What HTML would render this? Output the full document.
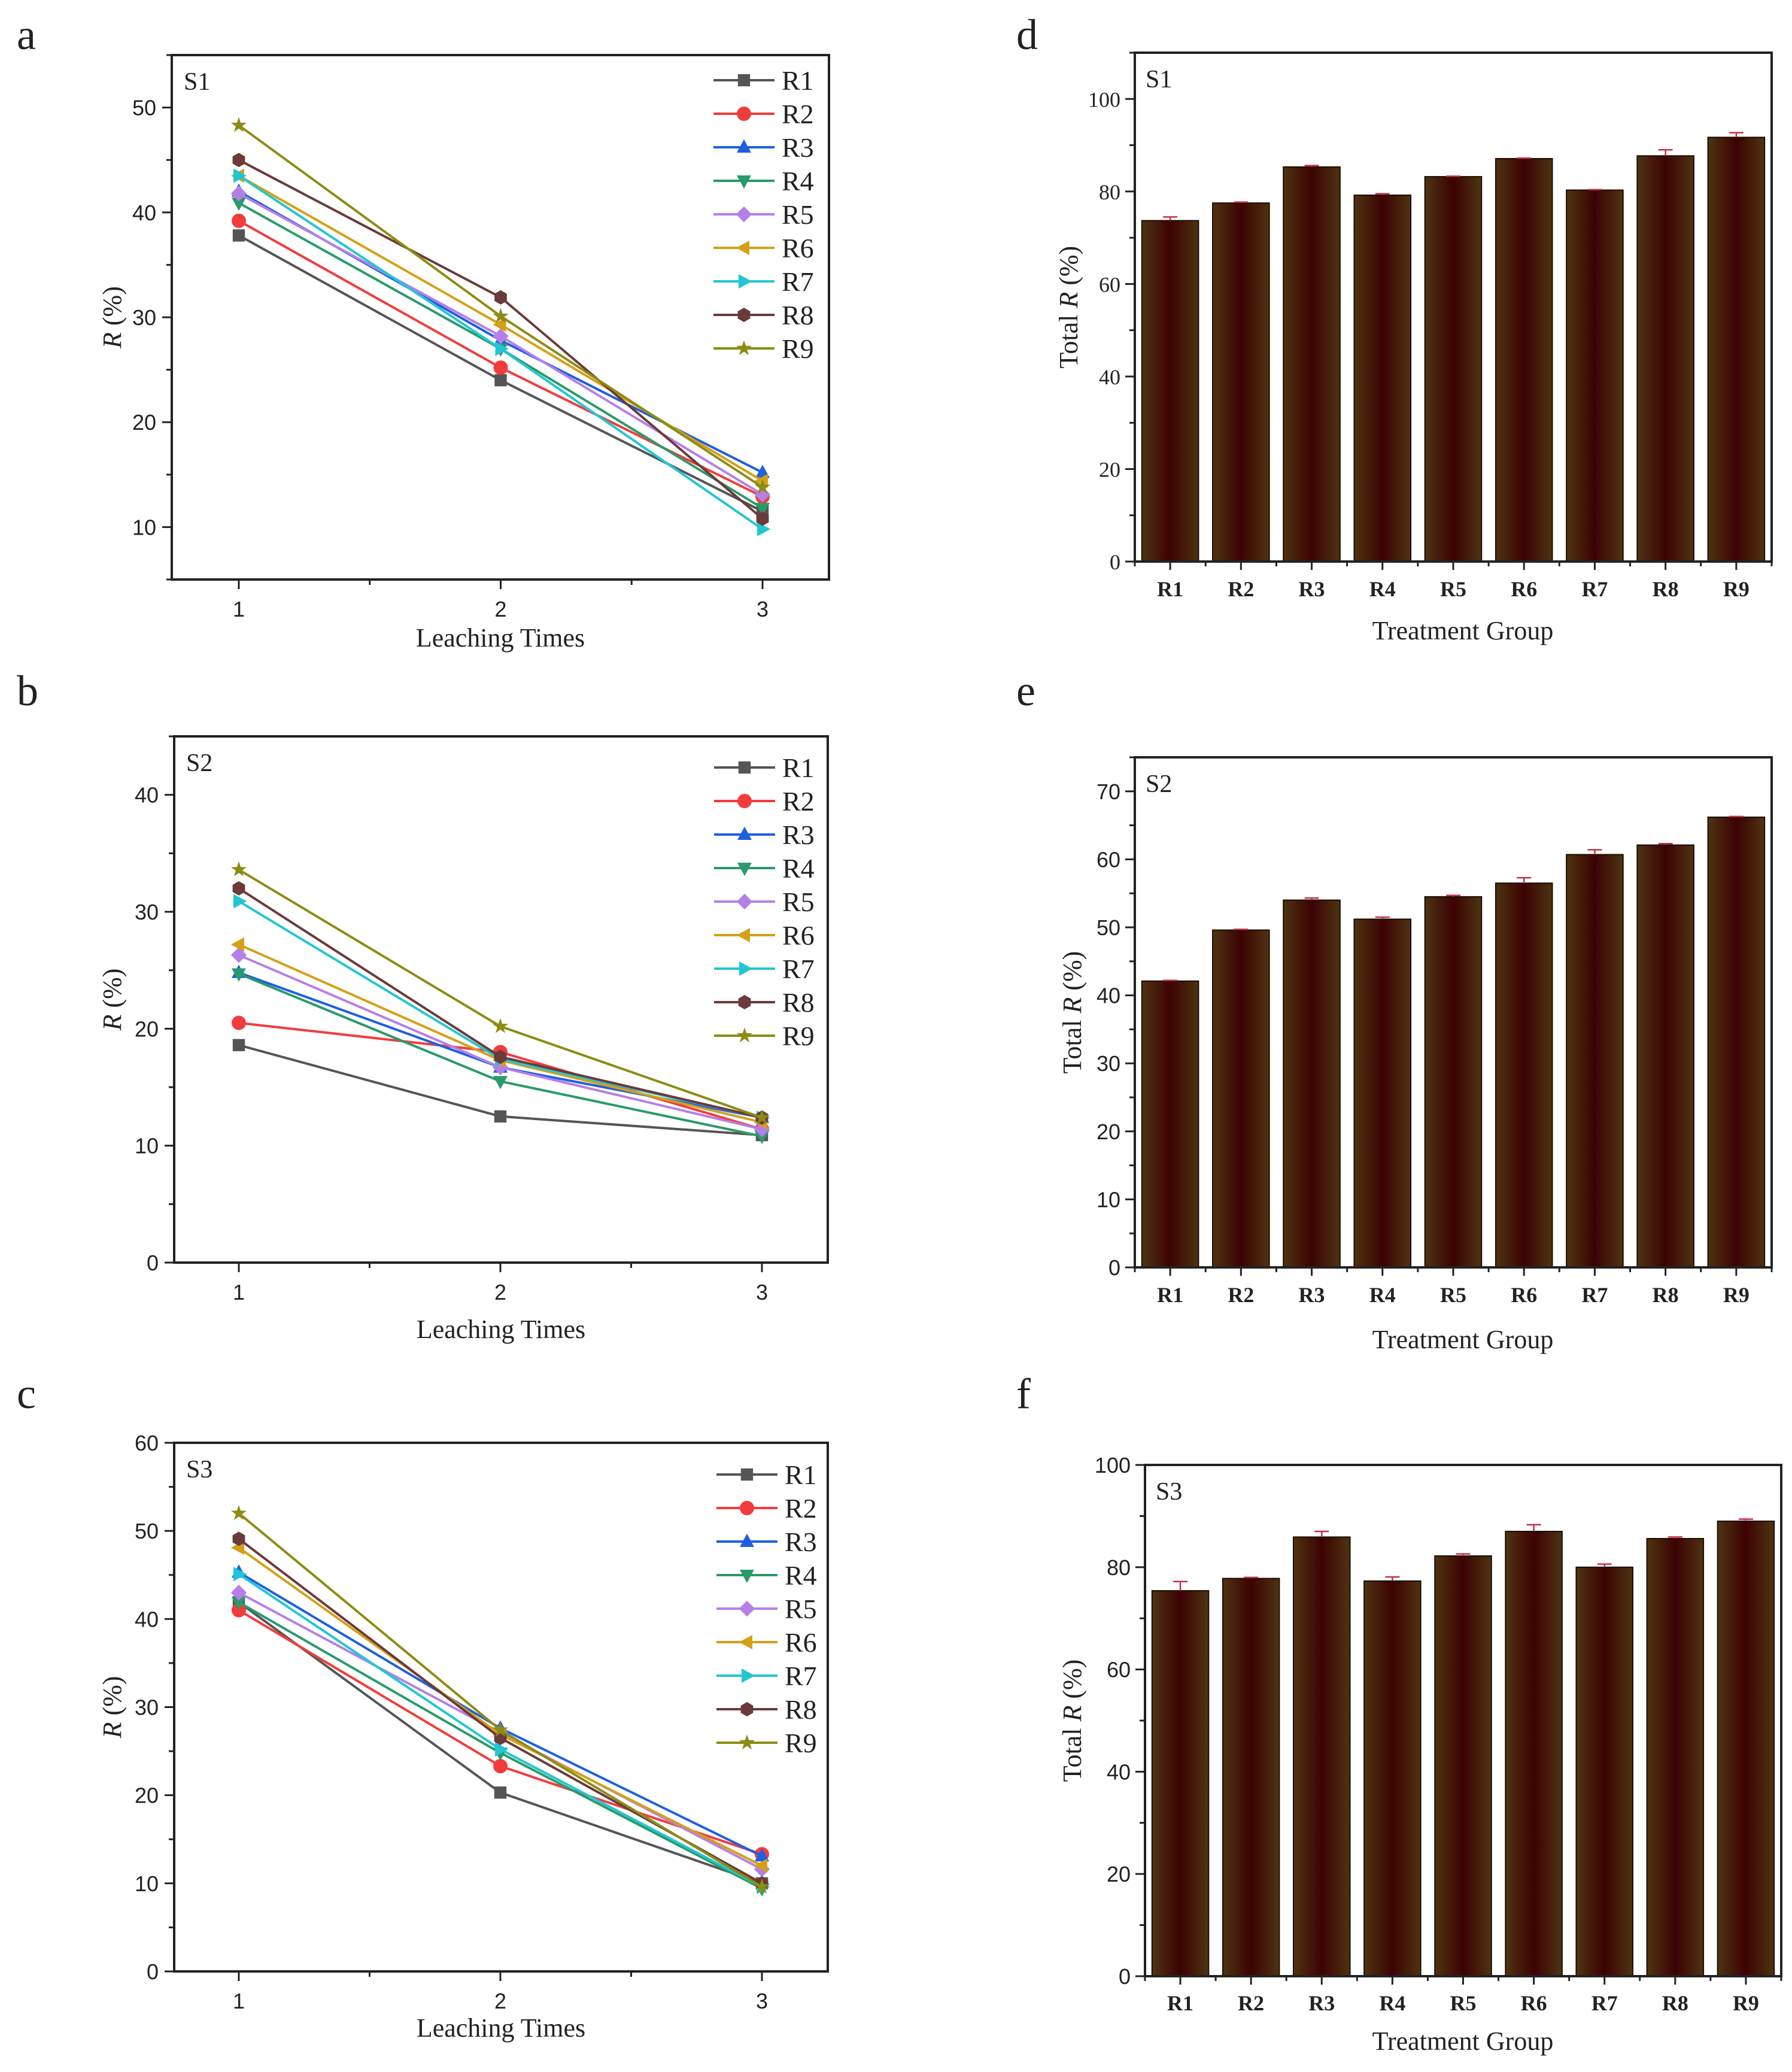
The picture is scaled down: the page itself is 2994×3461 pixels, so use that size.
<!DOCTYPE html>
<html><head><meta charset="utf-8"><style>
html,body{margin:0;padding:0;background:#fff;}
svg{display:block;}
text{fill:#222;}
</style></head><body>
<svg id="fig" xmlns="http://www.w3.org/2000/svg" width="2994" height="3461" viewBox="0 0 2994 3461">
<defs>
<linearGradient id="barGrad" x1="0" x2="1" y1="0" y2="0">
<stop offset="0" stop-color="#4e3412"/><stop offset="0.5" stop-color="#3c0202"/><stop offset="1" stop-color="#4e3412"/>
</linearGradient>
</defs>
</svg>
<script>
// ---- data ----
const series = ["R1","R2","R3","R4","R5","R6","R7","R8","R9"];
const leachTimes = [1,2,3];
const s1R1=[37.8,24.0,11.5], s1R2=[39.2,25.2,12.9], s1R3=[42.0,27.8,15.2], s1R4=[40.9,27.0,11.8], s1R5=[41.8,28.2,13.1], s1R6=[43.5,29.3,14.4], s1R7=[43.5,27.0,9.8], s1R8=[45.0,31.9,10.8], s1R9=[48.3,30.1,13.8];
const s2R1=[18.6,12.5,10.9], s2R2=[20.5,18.0,11.4], s2R3=[24.8,16.7,12.4], s2R4=[24.7,15.5,10.8], s2R5=[26.3,16.7,11.4], s2R6=[27.2,17.3,12.0], s2R7=[30.9,17.4,12.4], s2R8=[32.0,17.6,12.4], s2R9=[33.6,20.2,12.4];
const s3R1=[41.9,20.3,10.0], s3R2=[41.0,23.3,13.3], s3R3=[45.3,27.6,13.1], s3R4=[41.9,24.8,9.4], s3R5=[43.0,27.1,11.6], s3R6=[48.1,26.9,12.0], s3R7=[45.1,25.2,9.6], s3R8=[49.1,26.5,10.0], s3R9=[52.0,27.4,9.6];
const totalS1=[73.7,77.5,85.3,79.2,83.2,87.1,80.3,87.7,91.7];
const totalS2=[42.1,49.6,54.0,51.2,54.5,56.5,60.7,62.1,66.2];
const totalS3=[75.4,77.8,85.9,77.3,82.2,87.0,80.0,85.6,89.0];
const errS1=[0.8,0.2,0.3,0.3,0.1,0.1,0.1,1.3,1.0];
const errS2=[0.1,0.1,0.3,0.3,0.2,0.8,0.7,0.2,0.1];
const errS3=[1.8,0.2,1.1,0.8,0.4,1.3,0.6,0.3,0.4];
const ticksA=[10,20,30,40,50], ticksB=[0,10,20,30,40], ticksC=[0,10,20,30,40,50,60];
const ticksD=[0,20,40,60,80,100], ticksE=[0,10,20,30,40,50,60,70], ticksF=[0,20,40,60,80,100];

const colors=["#555555","#f23c3c","#1f5fe0","#2a9a6a","#b57fe8","#d4a017","#22c6d2","#6b3a3a","#8c8c14"];
const shapes=["square","circle","up","down","diamond","left","right","hex","star"];
const NS="http://www.w3.org/2000/svg";
const svg=document.getElementById('fig');
function el(tag,attrs,parent,txt){const e=document.createElementNS(NS,tag);for(const k in attrs)e.setAttribute(k,attrs[k]);if(txt!==undefined)e.textContent=txt;(parent||svg).appendChild(e);return e;}
const SERIF='"Liberation Serif", serif', SANS='"Liberation Sans", sans-serif';

function marker(g,shape,cx,cy,r,col){
  let m;
  const pts=a=>a.map(p=>(cx+p[0]*r).toFixed(1)+","+(cy+p[1]*r).toFixed(1)).join(" ");
  if(shape==="square") m=el('rect',{x:cx-r*0.85,y:cy-r*0.85,width:r*1.7,height:r*1.7,fill:col},g);
  else if(shape==="circle") m=el('circle',{cx:cx,cy:cy,r:r,fill:col},g);
  else if(shape==="up") m=el('polygon',{points:pts([[0,-1.1],[1,0.75],[-1,0.75]]),fill:col},g);
  else if(shape==="down") m=el('polygon',{points:pts([[0,1.1],[1,-0.75],[-1,-0.75]]),fill:col},g);
  else if(shape==="left") m=el('polygon',{points:pts([[-1.1,0],[0.75,-1],[0.75,1]]),fill:col},g);
  else if(shape==="right") m=el('polygon',{points:pts([[1.1,0],[-0.75,-1],[-0.75,1]]),fill:col},g);
  else if(shape==="diamond") m=el('polygon',{points:pts([[0,-1.1],[1.1,0],[0,1.1],[-1.1,0]]),fill:col},g);
  else if(shape==="hex"){const a=[];for(let i=0;i<6;i++){const t=Math.PI/6+i*Math.PI/3;a.push([Math.cos(t),Math.sin(t)]);}m=el('polygon',{points:pts(a),fill:col},g);}
  else {const a=[];for(let i=0;i<10;i++){const t=-Math.PI/2+i*Math.PI/5;const rr=i%2?0.45:1.15;a.push([rr*Math.cos(t),rr*Math.sin(t)]);}m=el('polygon',{points:pts(a),fill:col},g);}
  return m;
}

function panelLetter(txt,x,y){
  const t=el('text',{x:x,y:y,'font-family':SERIF,'font-size':72},svg,txt);
  
  
}

function linePanel(cfg){
  const g=el('g',{});
  
  
  const X=v=>cfg.x0+(v-1)/2*(cfg.x1-cfg.x0);
  const Y=v=>cfg.bottom-(v-cfg.ymin)/(cfg.ymax-cfg.ymin)*(cfg.bottom-cfg.top);
  // lines and markers
  cfg.data.forEach((arr,i)=>{
    const pts=arr.map((v,j)=>X(leachTimes[j]).toFixed(1)+","+Y(v).toFixed(1)).join(" ");
    const pl=el('polyline',{points:pts,fill:'none',stroke:colors[i],'stroke-width':4},g);
    
    
    arr.forEach((v,j)=>{
      const m=marker(g,shapes[i],X(leachTimes[j]),Y(v),12,colors[i]);
      
      
    });
  });
  // frame
  const fr=el('rect',{x:cfg.left,y:cfg.top,width:cfg.right-cfg.left,height:cfg.bottom-cfg.top,fill:'none',stroke:'#222','stroke-width':4},g);
  
  
  // y ticks
  const step=cfg.ticks[1]-cfg.ticks[0];
  for(let v=cfg.ymin;v<=cfg.ymax+0.01;v+=step/2){
    const major=cfg.ticks.includes(Math.round(v*10)/10);
    el('line',{x1:cfg.left,x2:cfg.left-(major?16:9),y1:Y(v),y2:Y(v),stroke:'#222','stroke-width':3},g);
  }
  cfg.ticks.forEach(v=>{
    const t=el('text',{x:cfg.left-26,y:Y(v)+13,'text-anchor':'end','font-family':SANS,'font-size':36},g,String(v));
    
    
  });
  [1,1.5,2,2.5,3].forEach(v=>{
    const major=Number.isInteger(v);
    el('line',{x1:X(v),x2:X(v),y1:cfg.bottom,y2:cfg.bottom+(major?16:9),stroke:'#222','stroke-width':3},g);
    if(major){const t=el('text',{x:X(v),y:cfg.bottom+62,'text-anchor':'middle','font-family':SANS,'font-size':36},g,String(v));
      
      }
  });
  const lab=el('text',{x:cfg.left+20,y:cfg.top+58,'font-family':SERIF,'font-size':42},g,cfg.label);
  
  
  const xt=el('text',{x:(cfg.left+cfg.right)/2,y:cfg.xtitleY,'text-anchor':'middle','font-family':SERIF,'font-size':44},g,'Leaching Times');
  
  
  const yc=(cfg.top+cfg.bottom)/2;
  const yt=el('text',{x:0,y:0,transform:`translate(202,${yc}) rotate(-90)`,'text-anchor':'middle','font-family':SERIF,'font-size':44},g);
  
  
  const ti=el('tspan',{'font-style':'italic'},yt,'R'); el('tspan',{},yt,' (%)');
  // legend
  const lg=el('g',{},g);
  
  
  series.forEach((s,i)=>{
    const y=cfg.legY+i*56;
    const e=el('g',{},lg);
    
    
    el('line',{x1:cfg.legX,x2:cfg.legX+102,y1:y,y2:y,stroke:colors[i],'stroke-width':4},e);
    marker(e,shapes[i],cfg.legX+51,y,12,colors[i]);
    el('text',{x:cfg.legX+114,y:y+16,'font-family':SERIF,'font-size':46},e,s);
  });
}

function barPanel(cfg){
  const g=el('g',{});
  
  
  const n=cfg.values.length;
  const band=(cfg.right-cfg.left)/n;
  const X=i=>cfg.left+(i+0.5)*band;
  const Y=v=>cfg.bottom-(v/cfg.ymax)*(cfg.bottom-cfg.top);
  cfg.values.forEach((v,i)=>{
    const w=band*0.8;
    const r=el('rect',{x:X(i)-w/2,y:Y(v),width:w,height:cfg.bottom-Y(v),fill:'url(#barGrad)',stroke:'#1a0c00','stroke-width':2},g);
    
    
    const e=cfg.err[i];
    const eb=el('path',{d:`M${X(i)},${Y(v)} V${Y(v+e)} M${X(i)-12},${Y(v+e)} H${X(i)+12}`,stroke:'#c0304a','stroke-width':2.5,fill:'none'},g);
    
    
    const t=el('text',{x:X(i),y:cfg.labelY,'text-anchor':'middle','font-family':SERIF,'font-size':36,'font-weight':'bold'},g,series[i]);
    
    
  });
  const fr=el('rect',{x:cfg.left,y:cfg.top,width:cfg.right-cfg.left,height:cfg.bottom-cfg.top,fill:'none',stroke:'#222','stroke-width':4},g);
  
  
  for(let i=0;i<=n*2;i++){
    const x=cfg.left+i*band/2;
    el('line',{x1:x,x2:x,y1:cfg.bottom,y2:cfg.bottom+(i%2?14:8),stroke:'#222','stroke-width':3},g);
  }
  const step=cfg.ticks[1]-cfg.ticks[0];
  for(let v=0;v<=cfg.ymax+0.01;v+=step/2){
    const major=cfg.ticks.includes(Math.round(v*10)/10);
    el('line',{x1:cfg.left,x2:cfg.left-(major?16:9),y1:Y(v),y2:Y(v),stroke:'#222','stroke-width':3},g);
  }
  cfg.ticks.forEach(v=>{
    const t=el('text',{x:cfg.left-24,y:Y(v)+13,'text-anchor':'end','font-family':cfg.tickFont,'font-size':36},g,String(v));
    
    
  });
  const lab=el('text',{x:cfg.left+18,y:cfg.top+58,'font-family':SERIF,'font-size':42},g,cfg.label);
  
  
  const xt=el('text',{x:2444,y:cfg.xtitleY,'text-anchor':'middle','font-family':SERIF,'font-size':44},g,'Treatment Group');
  
  
  const yc=(cfg.top+cfg.bottom)/2;
  const yt=el('text',{x:0,y:0,transform:`translate(${cfg.ytitleX},${yc}) rotate(-90)`,'text-anchor':'middle','font-family':SERIF,'font-size':44},g);
  
  
  el('tspan',{},yt,'Total '); el('tspan',{'font-style':'italic'},yt,'R'); el('tspan',{},yt,' (%)');
}

panelLetter('a',28,82); panelLetter('b',28,1178); panelLetter('c',28,2352);
panelLetter('d',1698,82); panelLetter('e',1698,1178); panelLetter('f',1698,2352);

linePanel({name:'panel-a-chart',left:287,right:1385,top:92,bottom:968,x0:399,x1:1274,ymin:5,ymax:55,ticks:ticksA,label:'S1',xtitleY:1080,legX:1192,legY:134,
  data:[s1R1,s1R2,s1R3,s1R4,s1R5,s1R6,s1R7,s1R8,s1R9]});
linePanel({name:'panel-b-chart',left:291,right:1383,top:1230,bottom:2109,x0:399,x1:1273,ymin:0,ymax:45,ticks:ticksB,label:'S2',xtitleY:2235,legX:1193,legY:1282,
  data:[s2R1,s2R2,s2R3,s2R4,s2R5,s2R6,s2R7,s2R8,s2R9]});
linePanel({name:'panel-c-chart',left:291,right:1383,top:2410,bottom:3293,x0:399,x1:1273,ymin:0,ymax:60,ticks:ticksC,label:'S3',xtitleY:3402,legX:1197,legY:2463,
  data:[s3R1,s3R2,s3R3,s3R4,s3R5,s3R6,s3R7,s3R8,s3R9]});

barPanel({name:'panel-d-chart',left:1896,right:2960,top:88,bottom:938,ymax:110,ticks:ticksD,values:totalS1,err:errS1,label:'S1',labelY:996,xtitleY:1068,ytitleX:1800,tickFont:SERIF});
barPanel({name:'panel-e-chart',left:1896,right:2960,top:1265,bottom:2117,ymax:75,ticks:ticksE,values:totalS2,err:errS2,label:'S2',labelY:2175,xtitleY:2252,ytitleX:1806,tickFont:SANS});
barPanel({name:'panel-f-chart',left:1913,right:2976,top:2447,bottom:3301,ymax:100,ticks:ticksF,values:totalS3,err:errS3,label:'S3',labelY:3358,xtitleY:3424,ytitleX:1806,tickFont:SANS});
</script>
</body></html>
